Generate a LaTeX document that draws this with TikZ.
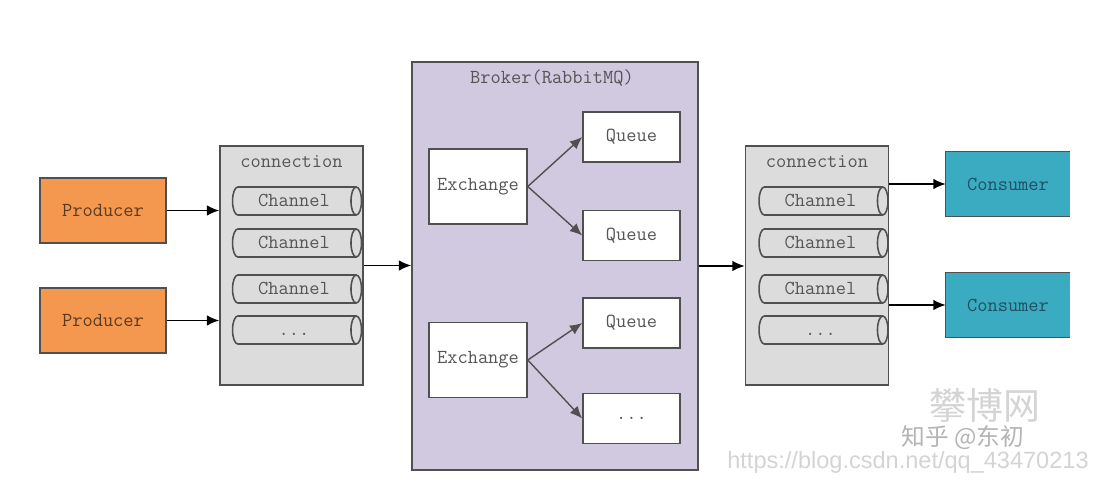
\documentclass[tikz,border=0pt]{standalone}
\usepackage{fontspec}
\newfontfamily\cjk{Noto Sans CJK SC}
\newfontfamily\urlfont{Liberation Sans}
\usetikzlibrary{shapes.geometric,arrows.meta}
\definecolor{prodfill}{HTML}{F4974F}
\definecolor{consfill}{HTML}{3BABC2}
\definecolor{brokfill}{HTML}{D1C9DF}
\definecolor{connfill}{HTML}{DCDCDC}
\definecolor{edge}{HTML}{505050}
\definecolor{txt}{HTML}{555555}
\definecolor{prodtxt}{HTML}{5A3A20}
\definecolor{constxt}{HTML}{1F4F60}
\definecolor{wm}{HTML}{D4D4D4}
\tikzset{
  lbl/.style={font=\ttfamily\fontsize{11.3}{13}\selectfont, text=txt},
  prodbox/.style={draw=edge, line width=0.9pt, fill=prodfill, minimum width=2.52cm, minimum height=1.3cm, font=\ttfamily\fontsize{11.3}{13}\selectfont, text=prodtxt, inner sep=0pt},
  consbox/.style={fill=consfill, minimum width=2.48cm, minimum height=1.28cm, font=\ttfamily\fontsize{11.3}{13}\selectfont, text=constxt, inner sep=0pt},
  connbox/.style={draw=edge, line width=0.9pt, fill=connfill, minimum width=2.86cm, minimum height=4.78cm, inner sep=0pt},
  brokbox/.style={draw=edge, line width=0.9pt, fill=brokfill, minimum width=5.72cm, minimum height=8.16cm, inner sep=0pt},
  whitebox/.style={draw=edge, line width=0.9pt, fill=white, minimum width=1.96cm, minimum height=1.5cm, lbl, inner sep=0pt},
  queuebox/.style={draw=edge, line width=0.9pt, fill=white, minimum width=1.94cm, minimum height=1.0cm, lbl, inner sep=0pt},
  chan/.style={cylinder, draw=edge, line width=0.9pt, fill=connfill, minimum height=2.58cm, minimum width=0.56cm, aspect=0.6, lbl, inner sep=0pt, text height=8pt, text depth=2pt},
  arr/.style={-{Latex[length=7pt,width=6pt]}, line width=0.8pt, draw=black},
  garr/.style={-{Latex[length=7pt,width=6pt]}, line width=0.8pt, draw=edge},
}
\begin{document}
\begin{tikzpicture}[x=0.02cm, y=-0.02cm]
\useasboundingbox[fill=white] (0,0) rectangle (1099,494);

% producers
\node[prodbox] (p1) at (103,210.5) {Producer};
\node[prodbox] (p2) at (103,320.5) {Producer};

% connection 1
\node[connbox] (c1) at (291.5,265.5) {};
\node[lbl] (c1l) at (291.5,162) {connection};
\node[chan] (c1a) at (294,201) {Channel};
\node[chan] (c1b) at (294,243) {Channel};
\node[chan] (c1c) at (294,289) {Channel};
\node[chan] (c1d) at (294,330) {...};

% broker
\node[brokbox] (br) at (555,266) {};
\node[lbl] (brl) at (552,78) {Broker(RabbitMQ)};
\node[whitebox] (e1) at (478,186.5) {Exchange};
\node[whitebox] (e2) at (478,360) {Exchange};
\node[queuebox] (q1) at (631.5,137) {Queue};
\node[queuebox] (q2) at (631.5,235.5) {Queue};
\node[queuebox] (q3) at (631.5,323) {Queue};
\node[queuebox] (q4) at (631.5,418.5) {...};

% connection 2
\node[connbox] (c2) at (817,265.5) {};
\node[lbl] (c2l) at (817,162) {connection};
\node[chan] (c2a) at (820.5,201) {Channel};
\node[chan] (c2b) at (820.5,243) {Channel};
\node[chan] (c2c) at (820.5,289) {Channel};
\node[chan] (c2d) at (820.5,330) {...};

% consumers (right edge cut off)
\node[consbox] (k1) at (1008,184) {Consumer};
\node[consbox] (k2) at (1008,305) {Consumer};
\draw[edge, line width=0.9pt] (k1.north east) -- (k1.north west) -- (k1.south west) -- (k1.south east);
\draw[edge, line width=0.9pt] (k2.north east) -- (k2.north west) -- (k2.south west) -- (k2.south east);

% connectors
\draw[arr] (p1.east) -- (p1.east -| c1.west);
\draw[arr] (p2.east) -- (p2.east -| c1.west);
\draw[arr] (c1.east) -- (c1.east -| br.west);
\draw[garr] (e1.east) -- (q1.west);
\draw[garr] (e1.east) -- (q2.west);
\draw[garr] (e2.east) -- (q3.west);
\draw[garr] (e2.east) -- (q4.west);
\draw[arr] (br.east) -- (br.east -| c2.west);
\draw[arr] (k1.west -| c2.east) -- (k1.west);
\draw[arr] (k2.west -| c2.east) -- (k2.west);

% watermarks
\node[text=wm, font=\cjk\fontsize{21}{23}\selectfont, inner sep=0pt] (w1) at (985,405) {攀博网};
\node[text=wm!85!black, font=\cjk\fontsize{13.5}{15}\selectfont, inner sep=0pt] (w2) at (963,438) {知乎 @东初};
\node[text=wm, font=\urlfont\fontsize{13.4}{15}\selectfont, inner sep=0pt] (w3) at (908,462) {https://blog.csdn.net/qq\_43470213};
\end{tikzpicture}
\end{document}
